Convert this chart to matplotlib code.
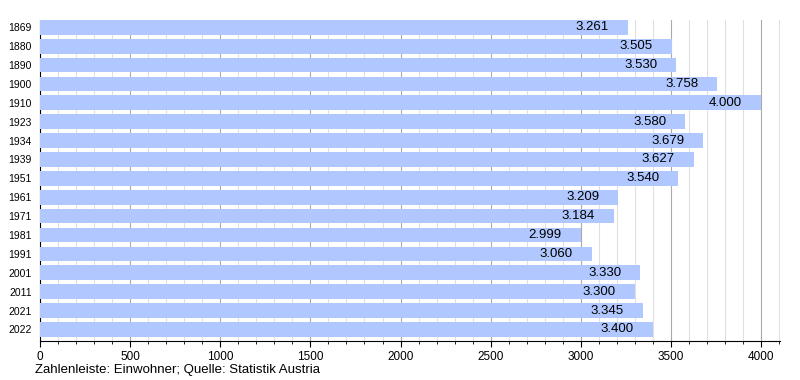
import numpy as np
import matplotlib.pyplot as plt
from matplotlib.ticker import MultipleLocator

plt.rcParams['font.family'] = ['Liberation Sans', 'DejaVu Sans']

years = ['1869', '1880', '1890', '1900', '1910', '1923', '1934', '1939', '1951',
         '1961', '1971', '1981', '1991', '2001', '2011', '2021', '2022']
einwohner = [3261, 3505, 3530, 3758, 4000, 3580, 3679, 3627, 3540,
             3209, 3184, 2999, 3060, 3330, 3300, 3345, 3400]

fig = plt.figure(figsize=(8, 3.8), dpi=100)
ax = fig.add_axes([0.05, 0.1034, 0.925, 0.844])

y = np.arange(len(years))
ax.barh(y, einwohner, height=0.78, color='#b0c8ff', zorder=3)

for yi, v in zip(y, einwohner):
    lab = f'{v:,}'.replace(',', '.')
    ax.annotate(lab, (v, yi), xytext=(-19, 0), textcoords='offset pixels',
                ha='right', va='center', fontsize=9.5, color='black', zorder=4)

ax.set_ylim(len(years) - 1 + 0.6, -0.39)
ax.set_yticks(y)
ax.set_yticklabels(years, fontsize=7.5)
ax.tick_params(axis='y', length=0, pad=6)

ax.set_xlim(0, 4105)
ax.xaxis.set_major_locator(MultipleLocator(500))
ax.xaxis.set_minor_locator(MultipleLocator(100))
ax.tick_params(axis='x', which='major', labelsize=8.5, length=4, color='black')
ax.tick_params(axis='x', which='minor', length=2.5, color='black')
ax.grid(axis='x', which='minor', color='#e0e0e0', linewidth=0.8, zorder=0)
ax.grid(axis='x', which='major', color='#aaaaaa', linewidth=0.8, zorder=1)

for s in ['top', 'right']:
    ax.spines[s].set_visible(False)
ax.spines['left'].set_color('black')
ax.spines['bottom'].set_color('black')

fig.text(35 / 800, 1 - 373 / 380, 'Zahlenleiste: Einwohner; Quelle: Statistik Austria',
         fontsize=9.5, ha='left', va='baseline')

fig.savefig('out.png', dpi=100)
